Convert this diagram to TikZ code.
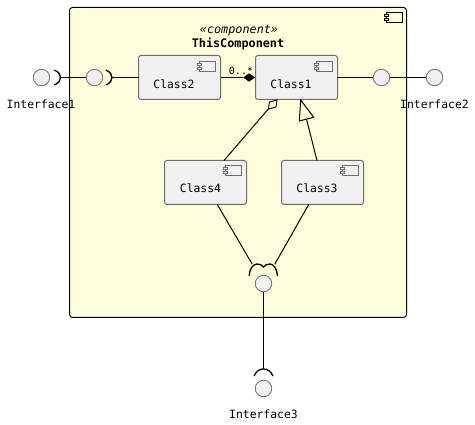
\documentclass[tikz,border=0pt]{standalone}
\usepackage{fontspec}
\setmonofont{DejaVu Sans Mono}
\usetikzlibrary{arrows.meta}
\definecolor{contfill}{HTML}{FEFEDC}
\definecolor{boxfill}{HTML}{F1F1F1}
\definecolor{boxline}{HTML}{6E6E6E}
\tikzset{
  x=1pt,y=-1pt,
  every node/.style={inner sep=0pt,outer sep=0pt,font=\fontsize{11.4pt}{13pt}\selectfont\ttfamily},
  container/.style={draw=black,fill=contfill,line width=1pt,rounded corners=3pt,minimum width=337pt,minimum height=310pt},
  classbox/.style={draw=boxline,fill=boxfill,line width=1pt,rounded corners=2.5pt,minimum width=82pt,minimum height=44pt},
  iface/.style={circle,draw=boxline,fill=boxfill,line width=0.8pt,minimum size=16.5pt},
  conn/.style={draw=black,line width=1pt},
  sock/.style={draw=black,line width=1.3pt},
  pics/compicon/.style={code={
    \draw[line width=0.9pt,draw=#1] (0,0) rectangle (16,10);
    \draw[line width=0.9pt,draw=#1,fill=boxfill] (-2,2) rectangle (2,4);
    \draw[line width=0.9pt,draw=#1,fill=boxfill] (-2,6) rectangle (2,8);
  }}
}
\begin{document}
\begin{tikzpicture}
\useasboundingbox (0,0) rectangle (475,425);
\fill[white] (0,0) rectangle (475,425);
% container
\node[container] (cont) at (238,162.5) {};
\pic at (386,12.5) {compicon=black};
\node[font=\fontsize{11.8pt}{13pt}\selectfont\ttfamily\itshape] (stereo) at (239,30.5) {«component»};
\node[font=\fontsize{11.8pt}{13pt}\selectfont\ttfamily\bfseries] (title) at (238,44) {ThisComponent};
% classes
\node[classbox] (c2) at (179.5,77.5) {};
\node[classbox] (c1) at (296.5,77.5) {};
\node[classbox] (c4) at (205.5,182.5) {};
\node[classbox] (c3) at (322.5,182.5) {};
\pic at (199,61) {compicon=boxline};
\pic at (316.5,61) {compicon=boxline};
\pic at (225,165.5) {compicon=boxline};
\pic at (342,165.5) {compicon=boxline};
\node (t2) at (174,84) {Class2};
\node (t1) at (291,84) {Class1};
\node (t4) at (200.5,188.5) {Class4};
\node (t3) at (317,188.5) {Class3};
% interface circles
\node[iface] (i1) at (41.5,77.5) {};
\node[iface] (p1) at (94.5,77.5) {};
\node[iface] (p2) at (381.5,77.5) {};
\node[iface] (i2) at (434.5,77.5) {};
\node[iface] (p3) at (263.5,283.5) {};
\node[iface] (i3) at (263.5,388.5) {};
% socket tips
\coordinate (s1) at (60.5,77.5);
\coordinate (s2) at (112,77.5);
\coordinate (s3l) at (252.3,264.3);
\coordinate (s3r) at (274.7,264.3);
\coordinate (s4) at (263.5,369);
% sockets
\draw[sock] (54.3,70) .. controls (59,72) and (60.5,75) .. (s1) .. controls (60.5,80) and (59,83) .. (54.3,85);
\draw[sock] (106,70) .. controls (110.5,72) and (112,75) .. (s2) .. controls (112,80) and (110.5,83) .. (106,85);
\draw[sock] (249.3,276) .. controls (249.3,268) and (254,264) .. (257,264) .. controls (260,264) and (262,265) .. (263.5,267) .. controls (265,265) and (267,264) .. (270,264) .. controls (273,264) and (277.3,268) .. (277.3,276);
\draw[sock] (254,376) .. controls (256,371) and (260,369) .. (s4) .. controls (267,369) and (271,371) .. (273,376);
% connectors
\draw[conn] (s1) -- (p1);
\draw[conn] (s2) -- (c2.west);
\draw[conn] (c1.east) -- (p2);
\draw[conn] (p2) -- (i2);
\draw[conn] (p3) -- (s4);
\draw[conn] ([xshift=11.8pt]c4.south) -- (s3l);
\draw[conn] ([xshift=-13.8pt]c3.south) -- (s3r);
% composition
\coordinate (dc) at (243.3,77.5);
\draw[conn] (c2.east) -- (dc);
\fill[black] (255,77.5) -- (249,73.3) -- (dc) -- (249,81.7) -- cycle;
\node[font=\fontsize{10pt}{12pt}\selectfont\ttfamily] (mult) at (241,71) {0..*};
% aggregation
\coordinate (da) at (268.3,109);
\draw[conn] ([xshift=18.5pt]c4.north) -- (da);
\draw[conn,fill=contfill,line width=0.9pt] (277,100) -- (276,107) -- (da) -- (269.5,102) -- cycle;
% inheritance
\coordinate (tb) at (306.5,119.2);
\draw[conn] ([xshift=-5.5pt]c3.north) -- (tb);
\draw[conn,fill=contfill] (300.7,100) -- (313.7,117.3) -- (299.3,121) -- cycle;
% interface labels
\node (l1) at (41,104) {Interface1};
\node (l2) at (434.5,104) {Interface2};
\node (l3) at (263.5,414) {Interface3};
\end{tikzpicture}
\end{document}
